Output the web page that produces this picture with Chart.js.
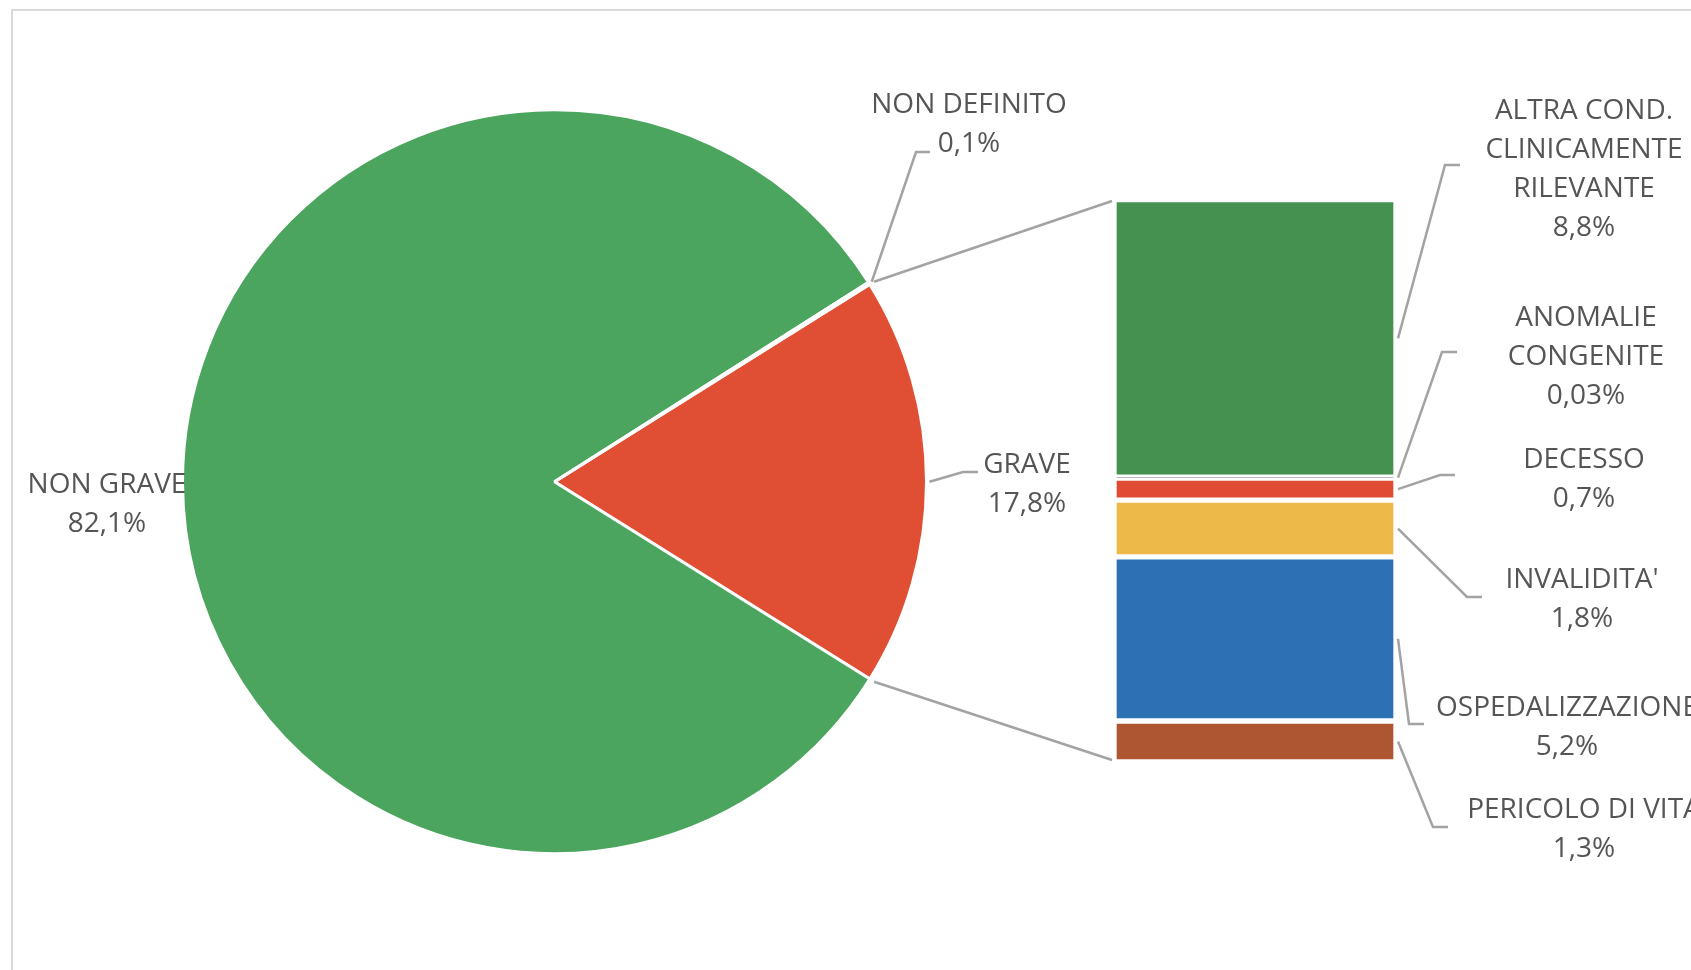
<!DOCTYPE html>
<html lang="it">
<head>
<meta charset="UTF-8">
<title>Gravità delle segnalazioni</title>
<script src="https://cdn.jsdelivr.net/npm/chart.js"></script>
<style>
    body { margin: 0; background: #fff; overflow: hidden; }
    #wrap { position: relative; width: 1691px; height: 970px; overflow: hidden; }
    #frame { position: absolute; left: 11px; top: 9px; width: 1800px; height: 1100px; border: 2px solid #d9d9d9; }
    canvas { position: absolute; left: 0; top: 0; }
</style>
</head>
<body>
<div id="wrap">
    <div id="frame"></div>
    <canvas id="pieChart" width="1691" height="970"></canvas>
    <canvas id="barChart" width="1691" height="970"></canvas>
</div>

<script>
    // pie: gravità
    const pieNames = [['GRAVE'], ['NON GRAVE'], ['NON DEFINITO']];
    const pieValues = [17.8, 82.1, 0.1];
    const pieColors = ['#E04F33', '#4CA55F', '#A5A5A5'];

    // bar: dettaglio dei casi gravi (dall'alto in basso)
    const barNames = [
        ['ALTRA COND.', 'CLINICAMENTE', 'RILEVANTE'],
        ['ANOMALIE', 'CONGENITE'],
        ['DECESSO'],
        ["INVALIDITA'"],
        ['OSPEDALIZZAZIONE'],
        ['PERICOLO DI VITA']
    ];
    const barValues = [8.8, 0.03, 0.7, 1.8, 5.2, 1.3];
    const barColors = ['#459150', '#7F7F7F', '#DF4C33', '#EDB948', '#2E70B4', '#AE5632'];

    const TEXT_FONT = '28px "Open Sans"';
    const TEXT_COLOR = '#555555';
    const LINE_H = 39;
    const LEADER_COLOR = '#A3A3A3';

    // label placement: first baseline, centre x, elbow of the leader line
    const pieCallouts = [
        { x: 1027, y: 473, elbow: [[963, 472], [978, 472]] },
        { x: 107, y: 493, elbow: null },
        { x: 969, y: 113, elbow: [[916, 152], [930, 152]] }
    ];
    const barCallouts = [
        { x: 1584, y: 119, elbow: [[1445, 165], [1460, 165]] },
        { x: 1586, y: 326, elbow: [[1442, 352], [1457, 352]] },
        { x: 1584, y: 468, elbow: [[1440, 475], [1455, 475]] },
        { x: 1582, y: 588, elbow: [[1467, 597], [1482, 597]] },
        { x: 1567, y: 716, elbow: [[1409, 724], [1424, 724]] },
        { x: 1584, y: 818, elbow: [[1433, 827], [1448, 827]] }
    ];

    const pct = v => String(v).replace('.', ',') + '%';

    function drawText(ctx, lines, cx, y0) {
        ctx.save();
        ctx.font = TEXT_FONT;
        ctx.fillStyle = TEXT_COLOR;
        ctx.textAlign = 'center';
        ctx.textBaseline = 'alphabetic';
        lines.forEach((t, i) => ctx.fillText(t, cx, y0 + i * LINE_H));
        ctx.restore();
    }

    function drawPolyline(ctx, pts) {
        ctx.save();
        ctx.strokeStyle = LEADER_COLOR;
        ctx.lineWidth = 2.5;
        ctx.beginPath();
        ctx.moveTo(pts[0][0], pts[0][1]);
        pts.slice(1).forEach(p => ctx.lineTo(p[0], p[1]));
        ctx.stroke();
        ctx.restore();
    }

    const pieLabelPlugin = {
        id: 'pieLabels',
        afterDraw(chart) {
            const ctx = chart.ctx;
            chart.getDatasetMeta(0).data.forEach((arc, i) => {
                const c = pieCallouts[i];
                if (c.elbow) {
                    const mid = (arc.startAngle + arc.endAngle) / 2;
                    const r = arc.outerRadius + 3;
                    const start = [arc.x + r * Math.cos(mid), arc.y + r * Math.sin(mid)];
                    drawPolyline(ctx, [start].concat(c.elbow));
                }
                drawText(ctx, pieNames[i].concat(pct(pieValues[i])), c.x, c.y);
            });
        }
    };

    const pieChart = new Chart(document.getElementById('pieChart'), {
        type: 'pie',
        data: {
            labels: pieNames.map(n => n.join(' ')),
            datasets: [{
                data: pieValues,
                backgroundColor: pieColors,
                borderColor: '#fff',
                borderWidth: 3
            }]
        },
        options: {
            responsive: false,
            animation: false,
            radius: 372,
            rotation: 90 - pieValues[0] * 1.8,
            layout: { padding: { left: 0, right: 582, top: 0, bottom: 6.6 } },
            plugins: { legend: { display: false }, tooltip: { enabled: false } }
        },
        plugins: [pieLabelPlugin]
    });

    const barLabelPlugin = {
        id: 'barLabels',
        afterDraw(chart) {
            const ctx = chart.ctx;
            const bars = barValues.map((v, i) => chart.getDatasetMeta(i).data[0]);

            // connectors from the GRAVE slice to the column
            const arc = pieChart.getDatasetMeta(0).data[0];
            const r = arc.outerRadius + 5;
            const left = bars[0].x - bars[0].width / 2 - 2;
            const top = Math.min(bars[0].y, bars[0].base) + 1.5;
            const last = bars[bars.length - 1];
            const bottom = Math.max(last.y, last.base) - 2;
            drawPolyline(ctx, [[arc.x + r * Math.cos(arc.startAngle), arc.y + r * Math.sin(arc.startAngle)], [left, top]]);
            drawPolyline(ctx, [[arc.x + r * Math.cos(arc.endAngle), arc.y + r * Math.sin(arc.endAngle)], [left, bottom]]);

            bars.forEach((bar, i) => {
                const c = barCallouts[i];
                const start = [bar.x + bar.width / 2 + 2, (bar.y + bar.base) / 2];
                drawPolyline(ctx, [start].concat(c.elbow));
                drawText(ctx, barNames[i].concat(pct(barValues[i])), c.x, c.y);
            });
        }
    };

    new Chart(document.getElementById('barChart'), {
        type: 'bar',
        data: {
            labels: [''],
            datasets: barValues.map((v, i) => ({
                label: barNames[i].join(' '),
                data: [v],
                backgroundColor: barColors[i],
                borderColor: '#fff',
                borderWidth: 3,
                borderSkipped: false,
                barPercentage: 1,
                categoryPercentage: 1
            }))
        },
        options: {
            responsive: false,
            animation: false,
            layout: { padding: { left: 1114, right: 295, top: 199.5, bottom: 208 } },
            scales: {
                x: { stacked: true, display: false },
                y: {
                    stacked: true,
                    display: false,
                    reverse: true,
                    min: 0,
                    max: barValues.reduce((a, b) => a + b, 0)
                }
            },
            plugins: { legend: { display: false }, tooltip: { enabled: false } }
        },
        plugins: [barLabelPlugin]
    });
</script>
</body>
</html>
